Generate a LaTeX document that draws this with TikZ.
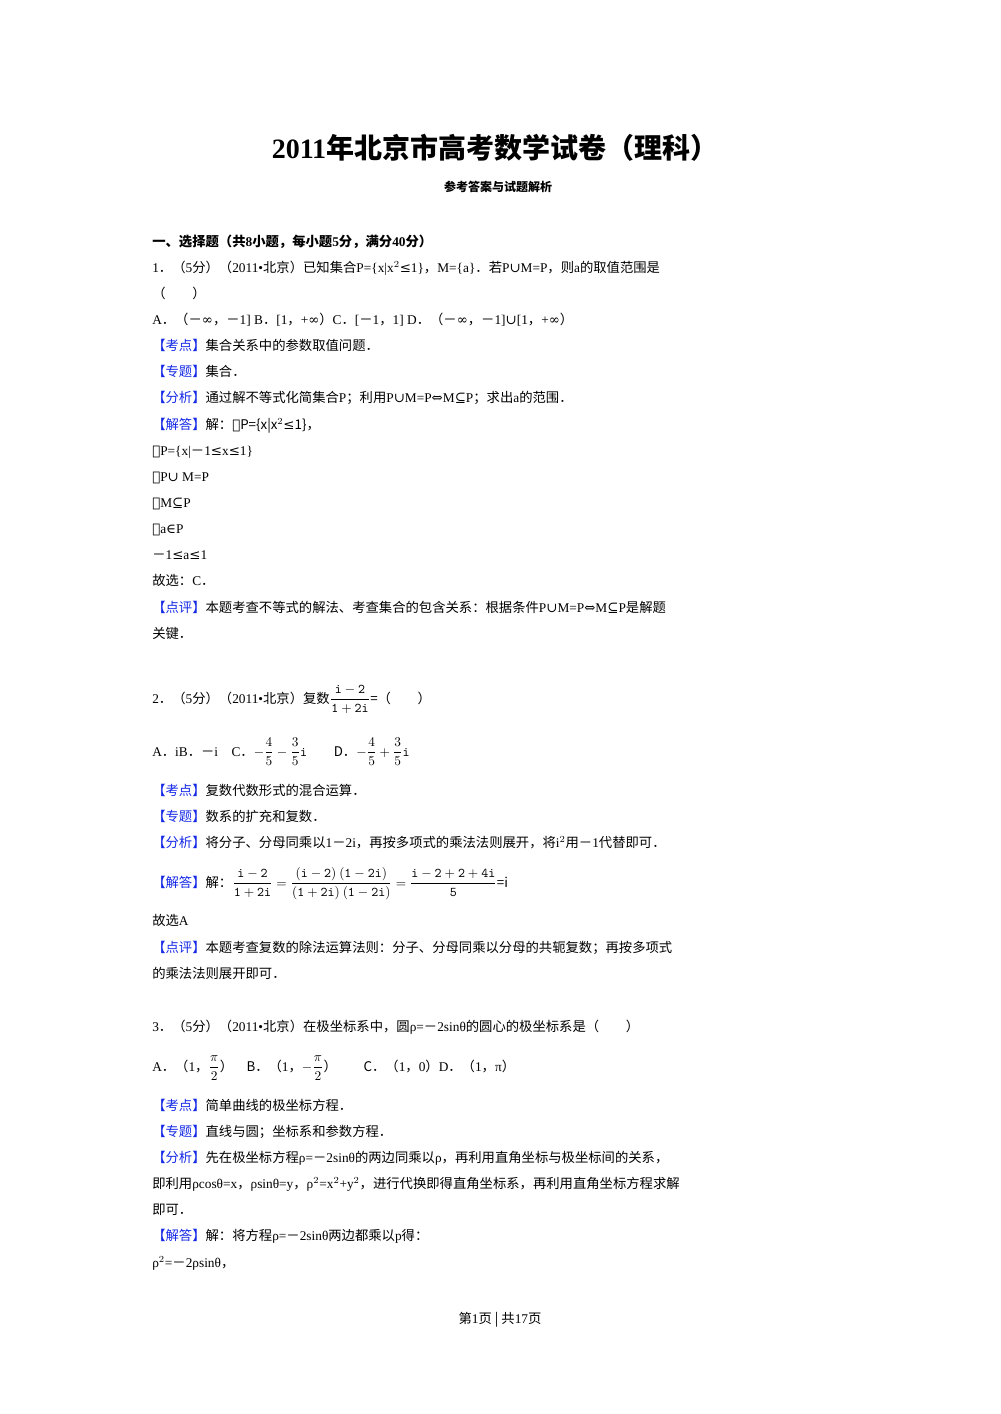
\documentclass[tikz,border=0pt]{standalone}
\usepackage{fontspec}
\usepackage{amsmath}
\setmainfont{Liberation Serif}
\newfontfamily\cjk{Noto Sans CJK SC}
\newfontfamily\sy{DejaVu Serif}
\newXeTeXintercharclass\cjkclass
\count255="4E00 \loop \XeTeXcharclass\count255=\cjkclass \advance\count255 by 1 \ifnum\count255<"A000 \repeat
\count255="3000 \loop \XeTeXcharclass\count255=\cjkclass \advance\count255 by 1 \ifnum\count255<"3040 \repeat
\count255="FF00 \loop \XeTeXcharclass\count255=\cjkclass \advance\count255 by 1 \ifnum\count255<"FFF0 \repeat
\XeTeXinterchartoks 0 \cjkclass = {\cjk}
\XeTeXinterchartoks 4095 \cjkclass = {\cjk}
\XeTeXinterchartoks \cjkclass 0 = {\rmfamily}
\XeTeXinterchartokenstate=1
\definecolor{lblue}{RGB}{20,40,230}
\newcommand\kd[1]{\textcolor{lblue}{【#1】}}
\newcommand\s[1]{{\sy #1}}
\newcommand\myln[3]{\node[anchor=base west,inner sep=0] (#1) at (152,#2+6) {#3};}
\begin{document}
\begin{tikzpicture}[x=0.75pt,y=-0.75pt]
\useasboundingbox (0,0) rectangle (1000,1414);
\node[inner sep=0] (title) at (495,148) {\fontsize{21}{24}\bfseries 2011年北京市高考数学试卷（理科）};
\node[inner sep=0] (sub) at (498,187) {\fontsize{9}{11}\bfseries 参考答案与试题解析};
\myln{a0}{240}{\bfseries 一、选择题（共8小题，每小题5分，满分40分）}
\myln{a1}{266}{1．（5分）（2011•北京）已知集合P=\{x|x$^2$\s{≤}1\}，M=\{a\}．若P\s{∪}M=P，则a的取值范围是}
\myln{a2}{292}{（　　）}
\myln{a3}{318}{A．（－\s{∞}，－1] B．[1，+\s{∞}）C．[－1，1] D．（－\s{∞}，－1]\s{∪}[1，+\s{∞}）}
\myln{a4}{344}{\kd{考点}集合关系中的参数取值问题．}
\myln{a5}{370}{\kd{专题}集合．}
\myln{a6}{396}{\kd{分析}通过解不等式化简集合P；利用P\s{∪}M=P\s{⇔}M\s{⊆}P；求出a的范围．}
\myln{a7}{423}{\kd{解答}解：\s{∵}P=\{x|x$^2$\s{≤}1\}，}
\myln{a8}{449}{\s{∴}P=\{x|－1\s{≤}x\s{≤}1\}}
\myln{a9}{475}{\s{∵}P\s{∪} M=P}
\myln{a10}{501}{\s{∴}M\s{⊆}P}
\myln{a11}{527}{\s{∴}a\s{∈}P}
\myln{a12}{553}{－1\s{≤}a\s{≤}1}
\myln{a13}{579}{故选：C．}
\myln{a14}{606}{\kd{点评}本题考查不等式的解法、考查集合的包含关系：根据条件P\s{∪}M=P\s{⇔}M\s{⊆}P是解题}
\myln{a15}{632}{关键．}
\myln{b1}{697}{2．（5分）（2011•北京）复数$\dfrac{\mathtt{i-2}}{\mathtt{1+2i}}$=（　　）}
\myln{b2}{750}{A．iB．－i\quad C．$-\dfrac{4}{5}-\dfrac{3}{5}\mathtt{i}$\qquad D．$-\dfrac{4}{5}+\dfrac{3}{5}\mathtt{i}$}
\myln{b3}{789}{\kd{考点}复数代数形式的混合运算．}
\myln{b4}{815}{\kd{专题}数系的扩充和复数．}
\myln{b5}{841}{\kd{分析}将分子、分母同乘以1－2i，再按多项式的乘法法则展开，将i$^2$用－1代替即可．}
\myln{b6}{881}{\kd{解答}解：$\dfrac{\mathtt{i-2}}{\mathtt{1+2i}}=\dfrac{\mathtt{(i-2)\ (1-2i)}}{\mathtt{(1+2i)\ (1-2i)}}=\dfrac{\mathtt{i-2+2+4i}}{\mathtt{5}}$=i}
\myln{b7}{919}{故选A}
\myln{b8}{946}{\kd{点评}本题考查复数的除法运算法则：分子、分母同乘以分母的共轭复数；再按多项式}
\myln{b9}{972}{的乘法法则展开即可．}
\myln{c1}{1025}{3．（5分）（2011•北京）在极坐标系中，圆ρ=－2sinθ的圆心的极坐标系是（　　）}
\myln{c2}{1065}{A．（1，$\dfrac{\pi}{2}$）\quad B．（1，$-\dfrac{\pi}{2}$）\qquad C．（1，0）D．（1，π）}
\myln{c3}{1104}{\kd{考点}简单曲线的极坐标方程．}
\myln{c4}{1130}{\kd{专题}直线与圆；坐标系和参数方程．}
\myln{c5}{1156}{\kd{分析}先在极坐标方程ρ=－2sinθ的两边同乘以ρ，再利用直角坐标与极坐标间的关系，}
\myln{c6}{1182}{即利用ρcosθ=x，ρsinθ=y，ρ$^2$=x$^2$+y$^2$，进行代换即得直角坐标系，再利用直角坐标方程求解}
\myln{c7}{1208}{即可．}
\myln{c8}{1234}{\kd{解答}解：将方程ρ=－2sinθ两边都乘以p得：}
\myln{c9}{1261}{ρ$^2$=－2ρsinθ，}
\node[inner sep=0] (foot) at (500,1320) {第1页 | 共17页};
\end{tikzpicture}
\end{document}
